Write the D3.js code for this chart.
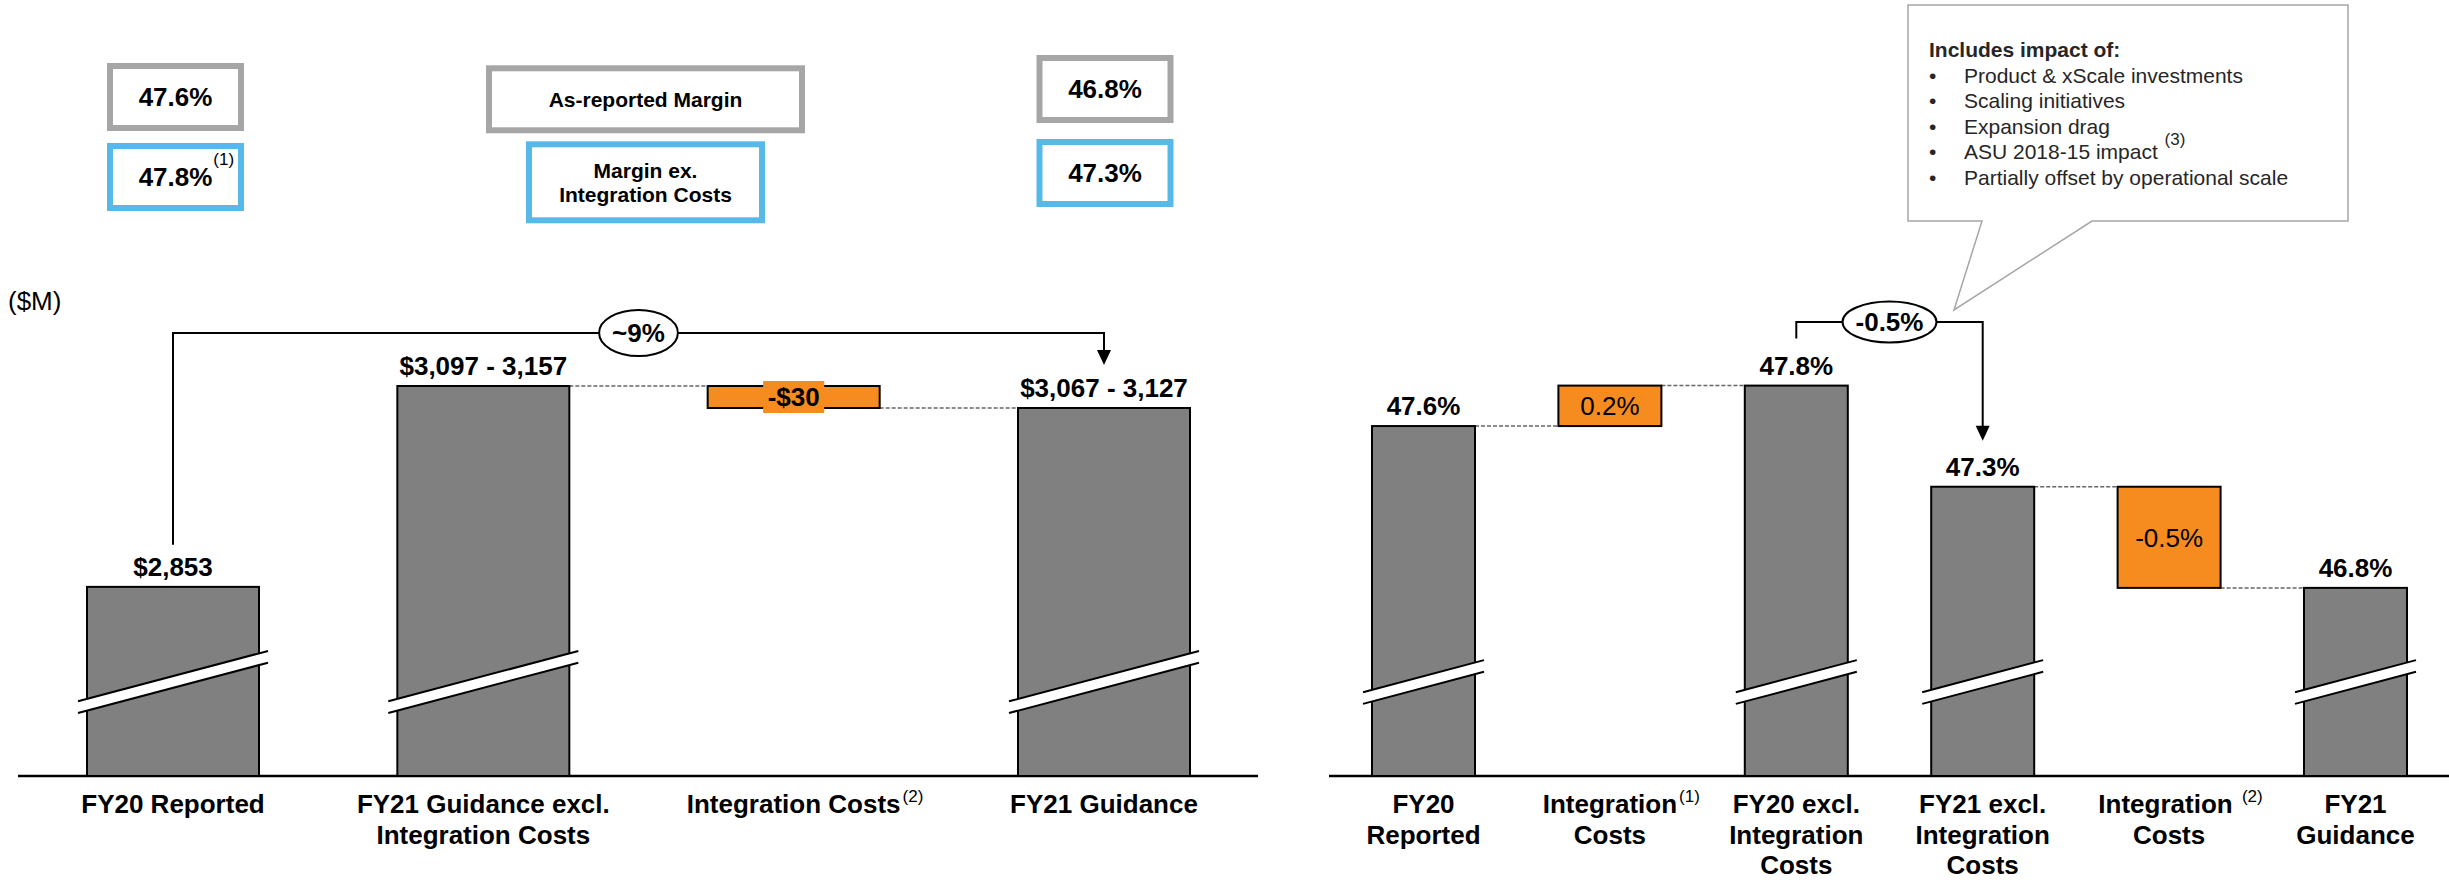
<!DOCTYPE html>
<html>
<head>
<meta charset="utf-8">
<script src="https://cdnjs.cloudflare.com/ajax/libs/d3/7.8.5/d3.min.js"></script>
<style>
body{margin:0;background:#fff;}
svg{display:block;font-family:"Liberation Sans",Arial,sans-serif;}
text{white-space:pre;}
</style>
</head>
<body>
<svg id="chart" width="2449" height="880"></svg>
<script>
"use strict";
// revenue bridge ($M) - guidance bars drawn at the midpoint of the range
var revCategories = ["FY20 Reported", "FY21 Guidance excl.|Integration Costs", "Integration Costs", "FY21 Guidance"];
var revNotes = ["", "", "(2)", ""];
var revTypes = ["total", "total", "delta", "total"];
var revValues = [2853, 3127, -30, 3097];
var revLabels = ["$2,853", "$3,097 - 3,157", "-$30", "$3,067 - 3,127"];

// margin bridge (%)
var marCategories = ["FY20|Reported", "Integration|Costs", "FY20 excl.|Integration|Costs", "FY21 excl.|Integration|Costs", "Integration |Costs", "FY21|Guidance"];
var marNotes = ["", "(1)", "", "", "(2)", ""];
var marTypes = ["total", "delta", "total", "total", "delta", "total"];
var marValues = [47.6, 0.2, 47.8, 47.3, -0.5, 46.8];
var marLabels = ["47.6%", "0.2%", "47.8%", "47.3%", "-0.5%", "46.8%"];

// margin boxes on top
var asReported = ["47.6%", "46.8%"];
var exIntegration = ["47.8%", "47.3%"];
var exNotes = ["(1)", ""];
var legendLabels = ["As-reported Margin", "Margin ex.|Integration Costs"];

var growthLabel = "~9%";
var marginChange = "-0.5%";
var calloutTitle = "Includes impact of:";
var calloutItems = ["Product & xScale investments", "Scaling initiatives", "Expansion drag", "ASU 2018-15 impact ", "Partially offset by operational scale"];
var calloutNotes = ["", "", "", "(3)", ""];

var GRAY = "#808080", ORANGE = "#F68B1F", BOXGRAY = "#a6a6a6", BLUE = "#56b9e8";
var baseY = 776, breakY = 682;

var svg = d3.select("#chart");

var xRev = d3.scalePoint().domain(revCategories).range([173, 1104]);
var yRev = d3.scaleLinear().domain([2595, 3127]).range([baseY, 386]);
var xMar = d3.scalePoint().domain(marCategories).range([1423.5, 2355.5]);
var yMar = d3.scaleLinear().domain([45.87, 47.8]).range([baseY, 385.6]);

function buildSteps(cats, types, values, labels, notes, floor) {
  var level = 0;
  return cats.map(function (c, i) {
    var s;
    if (types[i] == "total") {
      s = {lo: floor, hi: values[i], start: values[i], end: values[i]};
    } else {
      s = {start: level, end: level + values[i]};
      s.lo = Math.min(s.start, s.end);
      s.hi = Math.max(s.start, s.end);
    }
    level = s.end;
    s.cat = c; s.type = types[i]; s.label = labels[i]; s.note = notes[i];
    return s;
  });
}

function drawBridge(g, steps, x, y, bw) {
  // dashed connectors around the delta bars
  steps.forEach(function (d, i) {
    if (d.type != "delta") return;
    var prev = steps[i - 1], next = steps[i + 1];
    g.append("line")
      .attr("x1", x(prev.cat) + bw / 2).attr("x2", x(d.cat) - bw / 2)
      .attr("y1", y(d.start)).attr("y2", y(d.start));
    if (next) {
      g.append("line")
        .attr("x1", x(d.cat) + bw / 2).attr("x2", x(next.cat) - bw / 2)
        .attr("y1", y(d.end)).attr("y2", y(d.end));
    }
  });
  g.selectAll("line").attr("stroke", "#666").attr("stroke-width", 1.5).attr("stroke-dasharray", "4,2");

  g.selectAll("rect.bar").data(steps).join("rect")
    .attr("class", "bar")
    .attr("x", function (d) { return x(d.cat) - bw / 2; })
    .attr("width", bw)
    .attr("y", function (d) { return y(d.hi); })
    .attr("height", function (d) { return y(d.lo) - y(d.hi); })
    .attr("fill", function (d) { return d.type == "total" ? GRAY : ORANGE; })
    .attr("stroke", "#000").attr("stroke-width", 2);

  // axis break marks on the total bars
  var ext = 9, gap = 11.7, slope = 0.265;
  steps.filter(function (d) { return d.type == "total"; }).forEach(function (d) {
    var xl = x(d.cat) - bw / 2 - ext, xr = x(d.cat) + bw / 2 + ext;
    var r = slope * (xr - xl) / 2;
    var a = [xl, breakY - gap / 2 + r], b = [xr, breakY - gap / 2 - r];
    var c = [xr, breakY + gap / 2 - r], e = [xl, breakY + gap / 2 + r];
    g.append("polygon").attr("points", [a, b, c, e].join(" ")).attr("fill", "#fff");
    g.append("line").attr("x1", a[0]).attr("y1", a[1]).attr("x2", b[0]).attr("y2", b[1]).attr("stroke", "#000").attr("stroke-width", 2);
    g.append("line").attr("x1", e[0]).attr("y1", e[1]).attr("x2", c[0]).attr("y2", c[1]).attr("stroke", "#000").attr("stroke-width", 2);
  });

  // value labels
  steps.forEach(function (d) {
    if (d.type == "total") {
      g.append("text").attr("x", x(d.cat)).attr("y", y(d.hi) - 11)
        .attr("text-anchor", "middle").attr("font-size", 26).attr("font-weight", "bold")
        .text(d.label);
    } else {
      var h = y(d.lo) - y(d.hi), cy = (y(d.lo) + y(d.hi)) / 2;
      var t = g.append("text").attr("x", x(d.cat)).attr("y", cy + 9.4)
        .attr("text-anchor", "middle").attr("font-size", 26)
        .attr("font-weight", h < 40 ? "bold" : "normal")
        .text(d.label);
      if (h < 40) {
        var bb = t.node().getBBox();
        g.insert("rect", function () { return t.node(); })
          .attr("x", bb.x - 4.5).attr("y", cy - 16).attr("width", bb.width + 9).attr("height", 32)
          .attr("fill", ORANGE);
      }
    }
  });

  // category labels
  steps.forEach(function (d) {
    var lines = d.cat.split("|");
    var t = g.append("text").attr("text-anchor", "middle").attr("font-size", 26).attr("font-weight", "bold");
    lines.forEach(function (l, k) {
      t.append("tspan").attr("x", x(d.cat)).attr("y", 813 + k * 30.5).text(l);
    });
    if (d.note) {
      var w = t.select("tspan").node().getComputedTextLength();
      g.append("text").attr("x", x(d.cat) + w / 2 + 2).attr("y", 802)
        .attr("font-size", 17).text(d.note);
    }
  });
}

function bracket(g, x1, y1, x2, y2, yLine, label, ry) {
  g.append("path")
    .attr("d", "M" + x1 + "," + y1 + "V" + yLine + "H" + x2 + "V" + (y2 - 14))
    .attr("fill", "none").attr("stroke", "#000").attr("stroke-width", 2);
  g.append("path")
    .attr("d", "M" + (x2 - 7) + "," + (y2 - 15) + "L" + (x2 + 7) + "," + (y2 - 15) + "L" + x2 + "," + y2 + "Z")
    .attr("fill", "#000");
  var cx = (x1 + x2) / 2;
  var e = g.append("ellipse").attr("cx", cx).attr("cy", yLine).attr("ry", ry)
    .attr("fill", "#fff").attr("stroke", "#000").attr("stroke-width", 2);
  var t = g.append("text").attr("x", cx).attr("y", yLine + 9.4).attr("text-anchor", "middle")
    .attr("font-size", 26).attr("font-weight", "bold").text(label);
  e.attr("rx", t.node().getComputedTextLength() / 2 + 13);
}

function marginBox(cx, cy, w, h, color, text, size, note) {
  svg.append("rect").attr("x", cx - w / 2).attr("y", cy - h / 2).attr("width", w).attr("height", h)
    .attr("fill", "#fff").attr("stroke", color).attr("stroke-width", 6);
  var lines = text.split("|");
  var t = svg.append("text").attr("text-anchor", "middle").attr("font-size", size).attr("font-weight", "bold");
  lines.forEach(function (l, k) {
    t.append("tspan").attr("x", cx)
      .attr("y", cy + size * 0.355 + (k - (lines.length - 1) / 2) * 24.4).text(l);
  });
  if (note) {
    var tw = t.node().getComputedTextLength();
    svg.append("text").attr("x", cx + tw / 2 + 1).attr("y", cy - 12).attr("font-size", 17).text(note);
  }
}

// top margin boxes
var boxX = [175.5, 1105];
asReported.forEach(function (v, i) {
  marginBox(boxX[i], i == 0 ? 97 : 89, 131, 62, BOXGRAY, v, 26, "");
});
exIntegration.forEach(function (v, i) {
  marginBox(boxX[i], i == 0 ? 177 : 173, 131, 62, BLUE, v, 26, exNotes[i]);
});
marginBox(645.5, 99.3, 313, 62, BOXGRAY, legendLabels[0], 21, "");
marginBox(645.5, 182.3, 233, 76, BLUE, legendLabels[1], 21, "");

svg.append("text").attr("x", 8).attr("y", 310).attr("font-size", 26).text("($M)");

// axes
svg.append("line").attr("x1", 18).attr("x2", 1258).attr("y1", baseY).attr("y2", baseY)
  .attr("stroke", "#000").attr("stroke-width", 2.5);
svg.append("line").attr("x1", 1329).attr("x2", 2449).attr("y1", baseY).attr("y2", baseY)
  .attr("stroke", "#000").attr("stroke-width", 2.5);

var revSteps = buildSteps(revCategories, revTypes, revValues, revLabels, revNotes, yRev.domain()[0]);
var marSteps = buildSteps(marCategories, marTypes, marValues, marLabels, marNotes, yMar.domain()[0]);

drawBridge(svg.append("g"), revSteps, xRev, yRev, 172);
drawBridge(svg.append("g"), marSteps, xMar, yMar, 103);

// growth brackets
bracket(svg.append("g"), xRev(revCategories[0]), yRev(revValues[0]) - 42,
  xRev(revCategories[3]), yRev(revValues[3]) - 43, 333, growthLabel, 23);
bracket(svg.append("g"), xMar(marCategories[2]), yMar(marValues[2]) - 47,
  xMar(marCategories[3]), yMar(marValues[3]) - 46, 322, marginChange, 20.5);

// callout
var co = svg.append("g");
co.append("path")
  .attr("d", "M1908,5H2348V221H2092L1954,310L1982,221H1908Z")
  .attr("fill", "#fff").attr("stroke", BOXGRAY).attr("stroke-width", 1.5);
co.append("text").attr("x", 1929).attr("y", 57.3).attr("font-size", 21).attr("font-weight", "bold")
  .attr("fill", "#262626").text(calloutTitle);
calloutItems.forEach(function (s, i) {
  var yy = 82.5 + i * 25.5;
  co.append("text").attr("x", 1929).attr("y", yy).attr("font-size", 21).attr("fill", "#262626").text("\u2022");
  var t = co.append("text").attr("x", 1964).attr("y", yy).attr("font-size", 21).attr("fill", "#262626").text(s);
  if (calloutNotes[i]) {
    co.append("text").attr("x", 1964 + t.node().getComputedTextLength() + 1).attr("y", yy - 14)
      .attr("font-size", 17).attr("fill", "#262626").text(calloutNotes[i]);
  }
});
</script>
</body>
</html>
